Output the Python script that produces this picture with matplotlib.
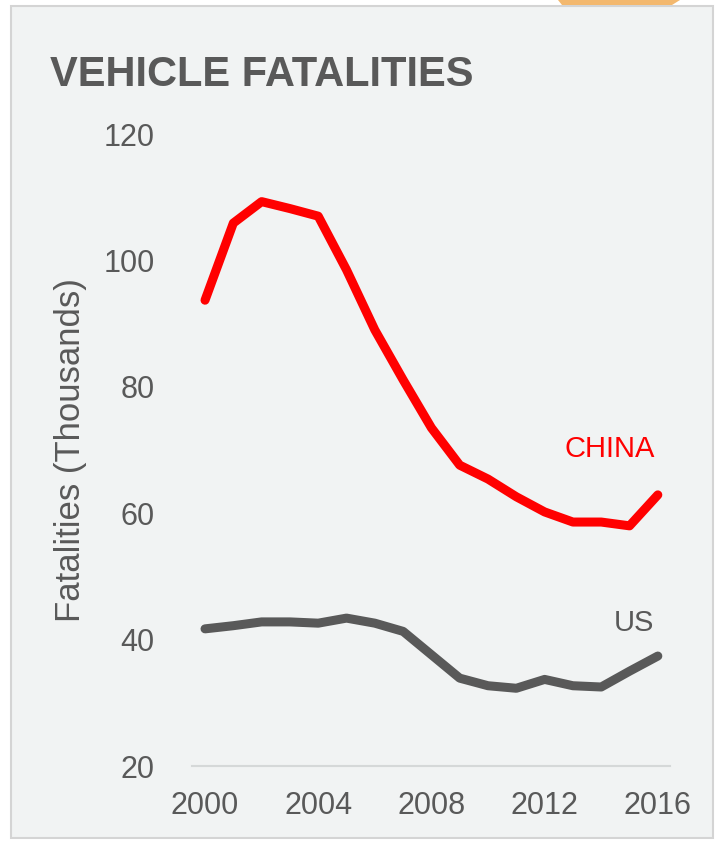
import matplotlib.pyplot as plt
from matplotlib.patches import Rectangle, Polygon

years = list(range(2000, 2017))
china = [93.7, 105.9, 109.3, 108.2, 107.0, 98.5, 89.0, 81.1, 73.5,
         67.6, 65.4, 62.6, 60.2, 58.6, 58.6, 58.0, 62.9]
us = [41.7, 42.2, 42.8, 42.8, 42.6, 43.4, 42.6, 41.3, 37.6,
      33.9, 32.7, 32.3, 33.7, 32.7, 32.5, 35.0, 37.4]
x_ticks = [2000, 2004, 2008, 2012, 2016]
y_ticks = [20, 40, 60, 80, 100, 120]

GRAY = "#595959"
RED = "#ff0000"
PANEL = "#f1f3f3"

plt.rcParams["font.family"] = ["Liberation Sans", "DejaVu Sans"]

fig = plt.figure(figsize=(7.15, 8.41), dpi=100)
fig.patch.set_facecolor("white")

# card background behind everything
fig.patches.append(Rectangle((11 / 715, 3 / 841), 702 / 715, 832 / 841,
                             transform=fig.transFigure, facecolor=PANEL,
                             edgecolor="#d4d4d4", linewidth=1.5, zorder=-2))
fig.patches.append(Polygon([(558 / 715, 1.0), (680 / 715, 1.0), (672 / 715, 836 / 841),
                            (562 / 715, 836 / 841)], closed=True,
                           transform=fig.transFigure, facecolor="#f3b86e",
                           edgecolor="none", zorder=-1))

ax = fig.add_axes([192 / 715, 75 / 841, 478 / 715, 632 / 841])
ax.set_facecolor("none")

ax.plot(years, china, color=RED, linewidth=6.5, solid_capstyle="round",
        solid_joinstyle="round")
ax.plot(years, us, color=GRAY, linewidth=6.5, solid_capstyle="round",
        solid_joinstyle="round")

ax.set_xlim(1999.54, 2016.43)
ax.set_ylim(20, 120)
ax.set_xticks(x_ticks)
ax.set_yticks(y_ticks)
ax.tick_params(axis="both", length=0, labelsize=22, labelcolor=GRAY)
ax.tick_params(axis="x", pad=18)
ax.tick_params(axis="y", pad=27)

for side in ["top", "right", "left"]:
    ax.spines[side].set_visible(False)
ax.spines["bottom"].set_color("#d5d8d8")
ax.spines["bottom"].set_linewidth(1.5)

ax.set_ylabel("Fatalities (Thousands)", fontsize=25, color=GRAY, labelpad=12)

ax.text(2015.9, 70.2, "CHINA", color=RED, fontsize=21, ha="right", va="center")
ax.text(2015.87, 42.7, "US", color=GRAY, fontsize=21, ha="right", va="center")

fig.text(50 / 715, 1 - 86 / 841, "VEHICLE FATALITIES",
         fontsize=30, fontweight="bold", color=GRAY, ha="left", va="baseline")

fig.savefig("out.png", dpi=100, facecolor=fig.get_facecolor())
